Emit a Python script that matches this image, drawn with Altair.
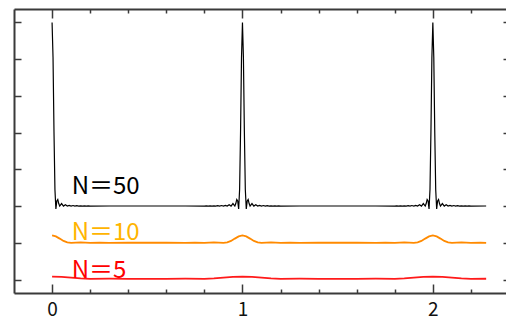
import altair as alt
import pandas as pd

# ---- data ----
x50 = [
    0.000, 0.005, 0.010, 0.015, 0.020, 0.025, 0.030, 0.035, 0.040, 0.050, 0.060, 0.070, 0.080,
    0.090, 0.100, 0.110, 0.120, 0.130, 0.140, 0.150, 0.160, 0.170, 0.180, 0.190, 0.200,
    0.300, 0.500, 0.700,
    0.800, 0.810, 0.820, 0.830, 0.840, 0.850, 0.860, 0.870, 0.880, 0.890, 0.900, 0.910,
    0.920, 0.930, 0.940, 0.950, 0.960, 0.965, 0.970, 0.975, 0.980, 0.985, 0.990, 0.995,
    1.000, 1.005, 1.010, 1.015, 1.020, 1.025, 1.030, 1.035, 1.040, 1.050, 1.060, 1.070, 1.080,
    1.090, 1.100, 1.110, 1.120, 1.130, 1.140, 1.150, 1.160, 1.170, 1.180, 1.190, 1.200,
    1.300, 1.500, 1.700,
    1.800, 1.810, 1.820, 1.830, 1.840, 1.850, 1.860, 1.870, 1.880, 1.890, 1.900, 1.910,
    1.920, 1.930, 1.940, 1.950, 1.960, 1.965, 1.970, 1.975, 1.980, 1.985, 1.990, 1.995,
    2.000, 2.005, 2.010, 2.015, 2.020, 2.025, 2.030, 2.035, 2.040, 2.050, 2.060, 2.070, 2.080,
    2.090, 2.100, 2.110, 2.120, 2.130, 2.140, 2.150, 2.160, 2.170, 2.180, 2.190, 2.200,
    2.280,
]
y50 = [
    7.00, 6.05, 4.03, 2.45, 1.92, 2.14, 2.18, 2.07, 2.00, 2.07, 2.00, 2.035, 2.00,
    2.02, 2.00, 2.015, 2.00, 2.01, 2.00, 2.008, 2.00, 2.006, 2.00, 2.005, 2.00,
    2.003, 2.002, 2.003,
    2.00, 2.005, 2.00, 2.006, 2.00, 2.008, 2.00, 2.01, 2.00, 2.015, 2.00, 2.02,
    2.00, 2.035, 2.00, 2.07, 2.00, 2.07, 2.18, 2.14, 1.92, 2.45, 4.03, 6.05,
    7.00, 6.05, 4.03, 2.45, 1.92, 2.14, 2.18, 2.07, 2.00, 2.07, 2.00, 2.035, 2.00,
    2.02, 2.00, 2.015, 2.00, 2.01, 2.00, 2.008, 2.00, 2.006, 2.00, 2.005, 2.00,
    2.003, 2.002, 2.003,
    2.00, 2.005, 2.00, 2.006, 2.00, 2.008, 2.00, 2.01, 2.00, 2.015, 2.00, 2.02,
    2.00, 2.035, 2.00, 2.07, 2.00, 2.07, 2.18, 2.14, 1.92, 2.45, 4.03, 6.05,
    7.00, 6.05, 4.03, 2.45, 1.92, 2.14, 2.18, 2.07, 2.00, 2.07, 2.00, 2.035, 2.00,
    2.02, 2.00, 2.015, 2.00, 2.01, 2.00, 2.008, 2.00, 2.006, 2.00, 2.005, 2.00,
    2.003,
]

x10 = [
    0.00, 0.02, 0.04, 0.06, 0.08, 0.10,
    0.15, 0.20, 0.25, 0.30, 0.40, 0.50, 0.60, 0.70, 0.75, 0.80, 0.85, 0.90,
    0.92, 0.94, 0.96, 0.98,
    1.00, 1.02, 1.04, 1.06, 1.08, 1.10,
    1.15, 1.20, 1.25, 1.30, 1.40, 1.50, 1.60, 1.70, 1.75, 1.80, 1.85, 1.90,
    1.92, 1.94, 1.96, 1.98,
    2.00, 2.02, 2.04, 2.06, 2.08, 2.10,
    2.15, 2.20, 2.25, 2.28,
]
y10 = [
    1.200, 1.175, 1.115, 1.051, 1.011, 1.000,
    1.010, 1.000, 1.004, 1.000, 1.002, 1.002, 1.002, 1.000, 1.004, 1.000, 1.010, 1.000,
    1.011, 1.051, 1.115, 1.175,
    1.200, 1.175, 1.115, 1.051, 1.011, 1.000,
    1.010, 1.000, 1.004, 1.000, 1.002, 1.002, 1.002, 1.000, 1.004, 1.000, 1.010, 1.000,
    1.011, 1.051, 1.115, 1.175,
    1.200, 1.175, 1.115, 1.051, 1.011, 1.000,
    1.010, 1.000, 1.004, 1.000,
]

x5 = [
    0.00, 0.05, 0.10, 0.15, 0.20, 0.30, 0.40, 0.50, 0.60, 0.70, 0.80, 0.85, 0.90, 0.95,
    1.00, 1.05, 1.10, 1.15, 1.20, 1.30, 1.40, 1.50, 1.60, 1.70, 1.80, 1.85, 1.90, 1.95,
    2.00, 2.05, 2.10, 2.15, 2.20, 2.28,
]
y5 = [
    0.080, 0.071, 0.051, 0.032, 0.020, 0.023, 0.020, 0.021, 0.020, 0.023, 0.020, 0.032, 0.051, 0.071,
    0.080, 0.071, 0.051, 0.032, 0.020, 0.023, 0.020, 0.021, 0.020, 0.023, 0.020, 0.032, 0.051, 0.071,
    0.080, 0.071, 0.051, 0.032, 0.020, 0.022,
]

labels = ["N＝50", "N＝10", "N＝5"]
label_x = [0.103, 0.103, 0.103]
label_y = [2.33, 1.085, 0.035]

x_major = [0, 1, 2]
x_minor = [0.2, 0.4, 0.6, 0.8, 1.2, 1.4, 1.6, 1.8, 2.2]
y_ticks = [0, 1, 2, 3, 4, 5, 6, 7]

# ---- styling ----
FRAME = "#3a3a3a"
FONT = "Noto Sans CJK JP"
xscale = alt.Scale(domain=[-0.2, 2.4], range=[0, 495], nice=False, zero=False)
yscale = alt.Scale(domain=[-0.366, 7.366], nice=False, zero=False)

def xaxis(orient, values, size, labels=False, domain=False, ticks=True, offset=None):
    kw = dict(orient=orient, values=values, grid=False, labels=labels, domain=domain,
              ticks=ticks, tickColor=FRAME, tickWidth=1.5, domainColor=FRAME, domainWidth=2,
              tickSize=size, offset=(-size if offset is None else offset))
    if labels:
        kw.update(labelFont=FONT, labelFontSize=19, labelColor="#111", labelPadding=7)
    return alt.Axis(**kw)

def yaxis(orient, size, domain=False, ticks=True, offset=None):
    return alt.Axis(orient=orient, values=y_ticks, grid=False, labels=False, domain=domain,
                    ticks=ticks, tickColor=FRAME, tickWidth=1.5, domainColor=FRAME, domainWidth=2,
                    tickSize=size, offset=(-size if offset is None else offset))

def line(xs, ys, color, width, xa, ya):
    df = pd.DataFrame({"x": xs, "y": ys})
    return alt.Chart(df).mark_line(color=color, strokeWidth=width).encode(
        x=alt.X("x:Q", scale=xscale, axis=xa, title=None),
        y=alt.Y("y:Q", scale=yscale, axis=ya, title=None),
    )

def label(i, color, xa, ya):
    df = pd.DataFrame({"x": [label_x[i]], "y": [label_y[i]], "t": [labels[i]]})
    return alt.Chart(df).mark_text(align="left", baseline="alphabetic", font=FONT,
                                   fontSize=24, color=color).encode(
        x=alt.X("x:Q", scale=xscale, axis=xa, title=None),
        y=alt.Y("y:Q", scale=yscale, axis=ya, title=None),
        text="t:N",
    )

l5 = line(x5, y5, "#ff1a1a", 1.8, xaxis("bottom", x_major, 9, labels=True), yaxis("left", 7))
l10 = line(x10, y10, "#ff8a00", 1.8, xaxis("top", x_major, 9), yaxis("right", 7, offset=-3))
l50 = line(x50, y50, "#000000", 1.2, xaxis("bottom", x_minor, 4),
           yaxis("left", 7, domain=True, ticks=False, offset=0))
t50 = label(0, "#000000", xaxis("top", x_minor, 4), None)
t10 = label(1, "#ffb400", xaxis("bottom", x_major, 9, domain=True, ticks=False, offset=0), None)
t5 = label(2, "#ff0000", xaxis("top", x_major, 9, domain=True, ticks=False, offset=0), None)

chart = alt.layer(l5, l10, l50, t50, t10, t5).resolve_axis(
    x="independent", y="independent"
).properties(
    width=492, height=284,
    padding={"left": 14, "top": 9, "right": 0, "bottom": 27},
    autosize=alt.AutoSizeParams(type="none"),
    background="white",
).configure_view(stroke=None)

chart.save("out.html", embed_options={"renderer": "svg", "actions": False})
